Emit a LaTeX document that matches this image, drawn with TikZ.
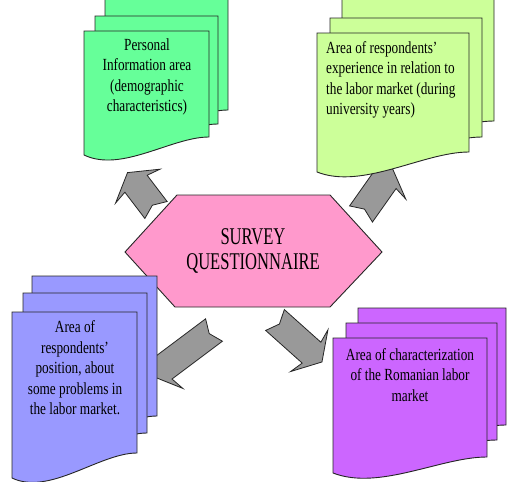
\documentclass[tikz,border=0pt]{standalone}
\usepackage{fontspec}
\newfontfamily\bodyfont[FakeStretch=0.78]{Liberation Serif}
\newfontfamily\titlefont[FakeStretch=0.69]{Liberation Serif}
\definecolor{sheetgreen}{HTML}{66FF99}
\definecolor{sheetlime}{HTML}{CCFF99}
\definecolor{sheetblue}{HTML}{9999FF}
\definecolor{sheetpurple}{HTML}{CC66FF}
\definecolor{hexpink}{HTML}{FF99CC}
\definecolor{arrowgray}{HTML}{999999}
\tikzset{
  garrow/.style={fill=arrowgray, draw=black!85, line width=0.8pt, line join=miter},
  sheetline/.style={draw=black!85, line width=0.9pt},
  bodytext/.style={font={\bodyfont\fontsize{17}{20.5}\selectfont}, inner sep=0pt, align=center},
  titletext/.style={font={\titlefont\fontsize{24}{25}\selectfont}, inner sep=0pt, align=center},
}
% block arrow: tail x, tail y, angle, barb position
\newcommand{\blockarr}[4]{%
  \begin{scope}[shift={(#1,#2)},rotate=#3]
    \draw[garrow] (0,14) -- (6,0) -- (0,-14) -- ({#4+3},-14) -- ({#4},-28) -- ({#4+17},0) -- ({#4},28) -- ({#4+3},14) -- cycle;
  \end{scope}}
% document sheet: left, right, top, bottom-right, bottom-left, fill
\newcommand{\docsheet}[6]{%
  \filldraw[sheetline, fill=#6] (#1,#3) -- (#2,#3) -- (#2,#4)
    .. controls ({#2-0.3*(#2-#1)},#4) and ({#1+0.3*(#2-#1)},{#5+18}) .. (#1,#5) -- cycle;}
\begin{document}
\begin{tikzpicture}[x=1pt,y=-1pt]
\useasboundingbox (0,0) rectangle (507,482);
\clip (0,0) rectangle (507,482);
\fill[white] (0,0) rectangle (507,482);

% arrows (behind the sheets)
\blockarr{156}{210}{127.3}{30}
\blockarr{361}{214}{54.8}{38}
\blockarr{214}{330}{216.9}{60}
\blockarr{275}{320}{-41.8}{46}

% hexagon
\filldraw[sheetline, fill=hexpink] (125,252) -- (177,195) -- (330,195) -- (382,252) -- (330,307) -- (175,307) -- cycle;
\node[titletext] (survey) at (253,251) {SURVEY\\QUESTIONNAIRE};

% green stack
\docsheet{105}{228}{-10}{110}{128}{sheetgreen}
\docsheet{95}{218}{16}{124}{142}{sheetgreen}
\docsheet{84}{209}{31}{137}{155}{sheetgreen}
\node[bodytext] (personal) at (147,77) {Personal\\Information area\\(demographic\\characteristics)};

% lime stack
\docsheet{342}{494}{-10}{121}{141}{sheetlime}
\docsheet{330}{482}{18}{137}{157}{sheetlime}
\docsheet{317}{469}{33}{152}{172}{sheetlime}
\node[bodytext, align=left, anchor=west] (experience) at (326,80) {Area of respondents’\\experience in relation to\\the labor market (during\\university years)};

% blue stack
\docsheet{32}{157}{276}{416}{441}{sheetblue}
\docsheet{23}{147}{293}{433}{458}{sheetblue}
\docsheet{12}{137}{312}{453}{478}{sheetblue}
\node[bodytext] (position) at (75,368) {Area of\\respondents’\\position, about\\some problems in\\the labor market.};

% purple stack
\docsheet{358}{506}{308}{425}{441}{sheetpurple}
\docsheet{346}{497}{323}{440}{456}{sheetpurple}
\docsheet{333}{487}{338}{457}{473}{sheetpurple}
\node[bodytext] (romanian) at (410,375) {Area of characterization\\of the Romanian labor\\market};
\end{tikzpicture}
\end{document}
